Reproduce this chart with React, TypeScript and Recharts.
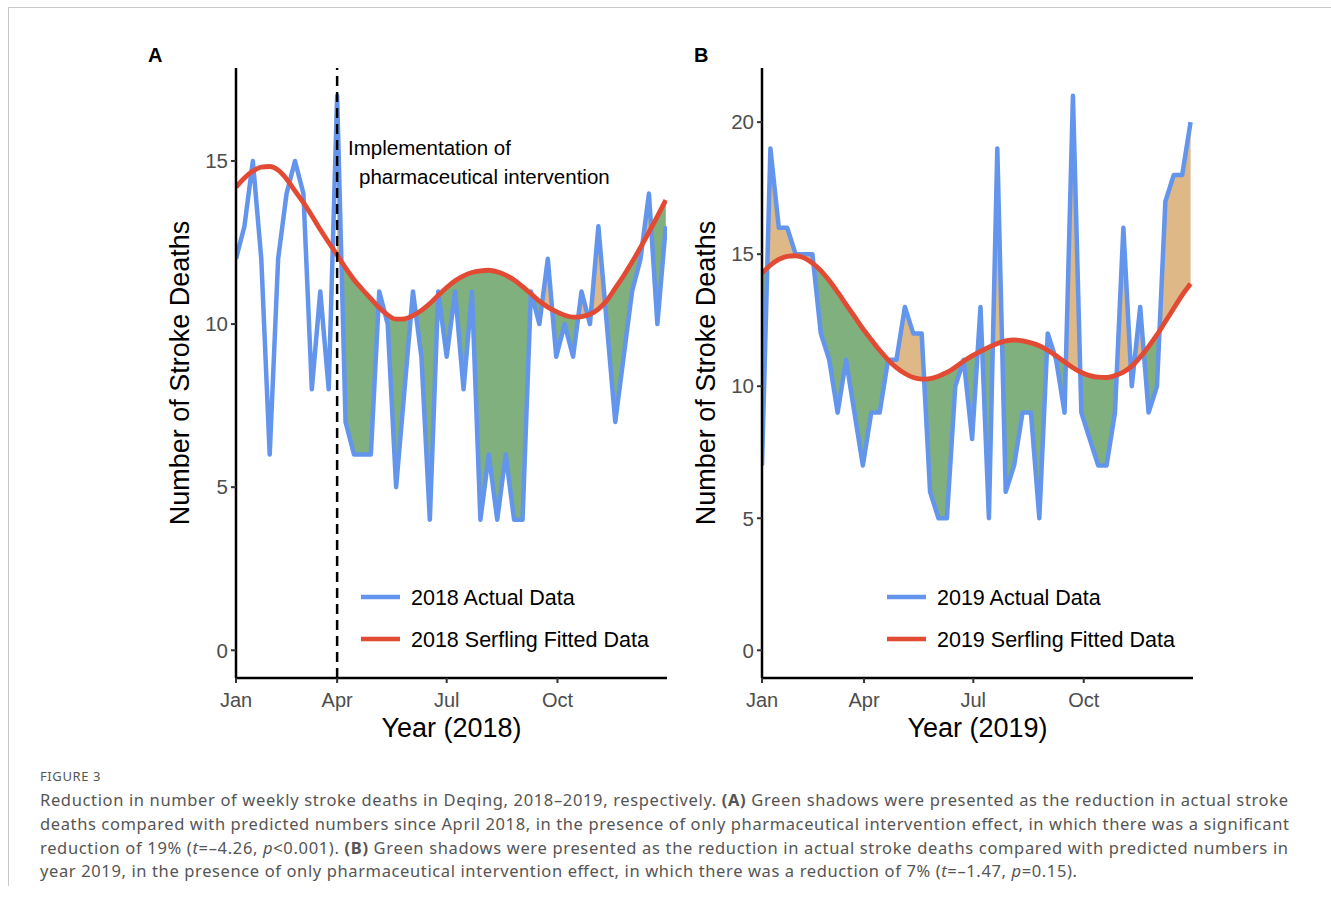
import React from 'react';
import { ComposedChart, Line, Area, XAxis, YAxis, ReferenceLine } from 'recharts';

const FONT = '"Liberation Sans", Arial, Helvetica, sans-serif';
const CAPTION_FONT = '"Noto Sans", "Open Sans", sans-serif';

// Week-ending Sundays, as day-of-year (Jan 1 = 0)
const firstSunday2018 = 6;
const firstSunday2019 = 5;
const days2018 = Array.from({ length: 52 }, (_, i) => firstSunday2018 + 7 * i);
const days2019 = Array.from({ length: 52 }, (_, i) => firstSunday2019 + 7 * i);
const yearEndDay = 364;
const interventionDay2018 = 90; // 1 April 2018

const monthTickLabels = ['Jan', 'Apr', 'Jul', 'Oct'];
const monthTicks2018 = [6, 90, 181, 273];
const monthTicks2019 = [5, 90, 181, 273];
const yTicks2018 = [0, 5, 10, 15];
const yTicks2019 = [0, 5, 10, 15, 20];

const actual2018 = [
  12, 13, 15, 12, 6, 12, 14, 15, 14, 8, 11, 8, 17, 7, 6, 6, 6, 11, 10, 5, 8, 11, 9, 4, 11, 9,
  11, 8, 11, 4, 6, 4, 6, 4, 4, 11, 10, 12, 9, 10, 9, 11, 10, 13, 10, 7, 9, 11, 12, 14, 10, 13,
];
const fitted2018 = [
  14.2, 14.48, 14.69, 14.81, 14.83, 14.72, 14.45, 14.08, 13.72, 13.32, 12.9, 12.5, 12.12, 11.72,
  11.36, 11.06, 10.78, 10.5, 10.28, 10.15, 10.16, 10.26, 10.42, 10.63, 10.88, 11.12, 11.33, 11.48,
  11.58, 11.63, 11.65, 11.6, 11.5, 11.35, 11.15, 10.93, 10.7, 10.52, 10.38, 10.27, 10.21, 10.23,
  10.3, 10.46, 10.72, 11.1, 11.48, 11.9, 12.35, 12.82, 13.3, 13.8,
];
const actual2019 = [
  7, 19, 16, 16, 15, 15, 15, 12, 11, 9, 11, 9, 7, 9, 9, 11, 11, 13, 12, 12, 6, 5, 5, 10, 11, 8,
  13, 5, 19, 6, 7, 9, 9, 5, 12, 11, 9, 21, 9, 8, 7, 7, 9, 16, 10, 13, 9, 10, 17, 18, 18, 20,
];
const fitted2019 = [
  14.28, 14.58, 14.8, 14.92, 14.94, 14.86, 14.66, 14.38, 14.0, 13.56, 13.1, 12.64, 12.18, 11.76,
  11.36, 11.0, 10.7, 10.48, 10.33, 10.27, 10.29, 10.38, 10.52, 10.72, 10.95, 11.15, 11.32, 11.48,
  11.62, 11.72, 11.75, 11.72, 11.64, 11.53, 11.36, 11.15, 10.92, 10.7, 10.52, 10.4, 10.34, 10.33,
  10.4, 10.53, 10.76, 11.1, 11.5, 11.95, 12.45, 12.95, 13.45, 13.88,
];

const BLUE = '#6495ED';
const RED = '#E34A33';
const GREEN = '#7FB07D';
const TAN = '#DEB887';

function buildRows(days: number[], actual: number[], fitted: number[], fillFrom: number) {
  const rows: any[] = [];
  for (let i = 0; i < days.length; i++) {
    const a = actual[i];
    const f = fitted[i];
    const row: any = { day: days[i], actual: a, fitted: f };
    const filled = days[i] >= fillFrom;
    if (filled) {
      row.green = [Math.min(a, f), f];
      row.tan = [f, Math.max(a, f)];
    }
    rows.push(row);
    if (filled && i + 1 < days.length) {
      const d0 = a - f;
      const d1 = actual[i + 1] - fitted[i + 1];
      if (d0 * d1 < 0) {
        const t = d0 / (d0 - d1);
        const x = days[i] + t * (days[i + 1] - days[i]);
        const y = f + t * (fitted[i + 1] - f);
        rows.push({ day: x, green: [y, y], tan: [y, y] });
      }
    }
  }
  return rows;
}

type PanelProps = {
  left: number;
  width: number;
  yAxisWidth: number;
  marginRight: number;
  days: number[];
  actual: number[];
  fitted: number[];
  fillFrom: number;
  xTicks: number[];
  yTicks: number[];
  yMax: number;
  refDay?: number;
};

const TOP = 68;
const HEIGHT = 760;
const XAXIS_H = 82; // plot bottom at 678

function Panel(p: PanelProps) {
  const rows = buildRows(p.days, p.actual, p.fitted, p.fillFrom);
  const pad = p.yMax * 0.05;
  return (
    <div style={{ position: 'absolute', left: p.left, top: 0, width: p.width, height: HEIGHT }}>
      <ComposedChart
        width={p.width}
        height={HEIGHT}
        data={rows}
        margin={{ top: TOP, right: p.marginRight, bottom: 0, left: 0 }}
      >
        <XAxis
          type="number"
          dataKey="day"
          domain={[p.days[0], yearEndDay]}
          allowDataOverflow
          ticks={p.xTicks}
          tickFormatter={(v: number) => monthTickLabels[p.xTicks.indexOf(v)] ?? ''}
          height={XAXIS_H}
          axisLine={{ stroke: '#000', strokeWidth: 2.5 }}
          tickLine={{ stroke: '#333', strokeWidth: 2 }}
          tickSize={5}
          tickMargin={10}
          tick={{ fill: '#4D4D4D', fontSize: 20, fontFamily: FONT }}
          interval={0}
        />
        <YAxis
          type="number"
          domain={[-pad, p.yMax + pad]}
          allowDataOverflow
          ticks={p.yTicks}
          width={p.yAxisWidth}
          axisLine={{ stroke: '#000', strokeWidth: 2.5 }}
          tickLine={{ stroke: '#333', strokeWidth: 2 }}
          tickSize={5}
          tickMargin={3}
          tick={{ fill: '#4D4D4D', fontSize: 20.5, fontFamily: FONT }}
          interval={0}
        />
        <Area
          type="linear"
          dataKey="green"
          fill={GREEN}
          fillOpacity={1}
          stroke="none"
          isAnimationActive={false}
          connectNulls={false}
          dot={false}
          activeDot={false}
        />
        <Area
          type="linear"
          dataKey="tan"
          fill={TAN}
          fillOpacity={1}
          stroke="none"
          isAnimationActive={false}
          connectNulls={false}
          dot={false}
          activeDot={false}
        />
        <Line
          type="linear"
          dataKey="actual"
          stroke={BLUE}
          strokeWidth={4.5}
          strokeLinejoin="round"
          dot={false}
          activeDot={false}
          connectNulls
          isAnimationActive={false}
        />
        <Line
          type="monotone"
          dataKey="fitted"
          stroke={RED}
          strokeWidth={4.8}
          dot={false}
          activeDot={false}
          connectNulls
          isAnimationActive={false}
        />
        {p.refDay !== undefined && (
          <ReferenceLine x={p.refDay} stroke="#000" strokeWidth={2.5} strokeDasharray="10 6" />
        )}
      </ComposedChart>
    </div>
  );
}

function Overlay() {
  const t = { fontFamily: FONT };
  const cap = { fontFamily: CAPTION_FONT, fontSize: 16.5, fill: '#555' };
  return (
    <svg
      width={1331}
      height={906}
      style={{ position: 'absolute', left: 0, top: 0, pointerEvents: 'none' }}
    >
      {/* figure frame */}
      <line x1={8} y1={7.5} x2={1331} y2={7.5} stroke="#C8C8C8" strokeWidth={1} />
      <line x1={8.5} y1={7} x2={8.5} y2={886} stroke="#C8C8C8" strokeWidth={1} />

      {/* panel letters */}
      <text x={148} y={62} fontSize={20} fontWeight={700} style={t}>A</text>
      <text x={694} y={62} fontSize={20} fontWeight={700} style={t}>B</text>

      {/* axis titles */}
      <text x={451.5} y={737} fontSize={27} textAnchor="middle" style={t}>Year (2018)</text>
      <text x={977.5} y={737} fontSize={27} textAnchor="middle" style={t}>Year (2019)</text>
      <text
        x={0}
        y={0}
        fontSize={27}
        textAnchor="middle"
        transform="translate(189,373) rotate(-90)"
        style={t}
      >
        Number of Stroke Deaths
      </text>
      <text
        x={0}
        y={0}
        fontSize={27}
        textAnchor="middle"
        transform="translate(715,373) rotate(-90)"
        style={t}
      >
        Number of Stroke Deaths
      </text>

      {/* annotation */}
      <text x={348} y={155} fontSize={20.5} style={t}>Implementation of</text>
      <text x={359} y={184} fontSize={20.5} style={t}>pharmaceutical intervention</text>

      {/* legends */}
      <line x1={361} x2={400} y1={597} y2={597} stroke={BLUE} strokeWidth={4.5} />
      <text x={411} y={604.5} fontSize={21.5} style={t}>2018 Actual Data</text>
      <line x1={361} x2={400} y1={639} y2={639} stroke={RED} strokeWidth={4.5} />
      <text x={411} y={646.5} fontSize={21.5} style={t}>2018 Serfling Fitted Data</text>

      <line x1={887} x2={926} y1={597} y2={597} stroke={BLUE} strokeWidth={4.5} />
      <text x={937} y={604.5} fontSize={21.5} style={t}>2019 Actual Data</text>
      <line x1={887} x2={926} y1={639} y2={639} stroke={RED} strokeWidth={4.5} />
      <text x={937} y={646.5} fontSize={21.5} style={t}>2019 Serfling Fitted Data</text>

      {/* caption */}
      <text x={40} y={781} fontFamily={CAPTION_FONT} fontSize={13} fill="#555" letterSpacing={0.6}>
        FIGURE 3
      </text>
      <text x={40} y={806} textLength={1248} lengthAdjust="spacing" style={cap}>
        Reduction in number of weekly stroke deaths in Deqing, 2018–2019, respectively.{' '}
        <tspan fontWeight={700}>(A)</tspan> Green shadows were presented as the reduction in actual
        stroke
      </text>
      <text x={40} y={830} textLength={1249} lengthAdjust="spacing" style={cap}>
        deaths compared with predicted numbers since April 2018, in the presence of only
        pharmaceutical intervention effect, in which there was a significant
      </text>
      <text x={40} y={853.5} textLength={1248} lengthAdjust="spacing" style={cap}>
        reduction of 19% (<tspan fontStyle="italic">t</tspan>=–4.26,{' '}
        <tspan fontStyle="italic">p</tspan>&lt;0.001). <tspan fontWeight={700}>(B)</tspan> Green
        shadows were presented as the reduction in actual stroke deaths compared with predicted
        numbers in
      </text>
      <text x={40} y={877} textLength={1037} lengthAdjust="spacing" style={cap}>
        year 2019, in the presence of only pharmaceutical intervention effect, in which there was a
        reduction of 7% (<tspan fontStyle="italic">t</tspan>=–1.47,{' '}
        <tspan fontStyle="italic">p</tspan>=0.15).
      </text>
    </svg>
  );
}

export default function App() {
  return (
    <div style={{ position: 'absolute', left: 0, top: 0, width: 1331, height: 906, background: '#fff' }}>
      <Panel
        left={100}
        width={600}
        yAxisWidth={136}
        marginRight={33}
        days={days2018}
        actual={actual2018}
        fitted={fitted2018}
        fillFrom={interventionDay2018}
        xTicks={monthTicks2018}
        yTicks={yTicks2018}
        yMax={17}
        refDay={interventionDay2018}
      />
      <Panel
        left={640}
        width={590}
        yAxisWidth={122}
        marginRight={37}
        days={days2019}
        actual={actual2019}
        fitted={fitted2019}
        fillFrom={days2019[0]}
        xTicks={monthTicks2019}
        yTicks={yTicks2019}
        yMax={21}
      />
      <Overlay />
    </div>
  );
}
